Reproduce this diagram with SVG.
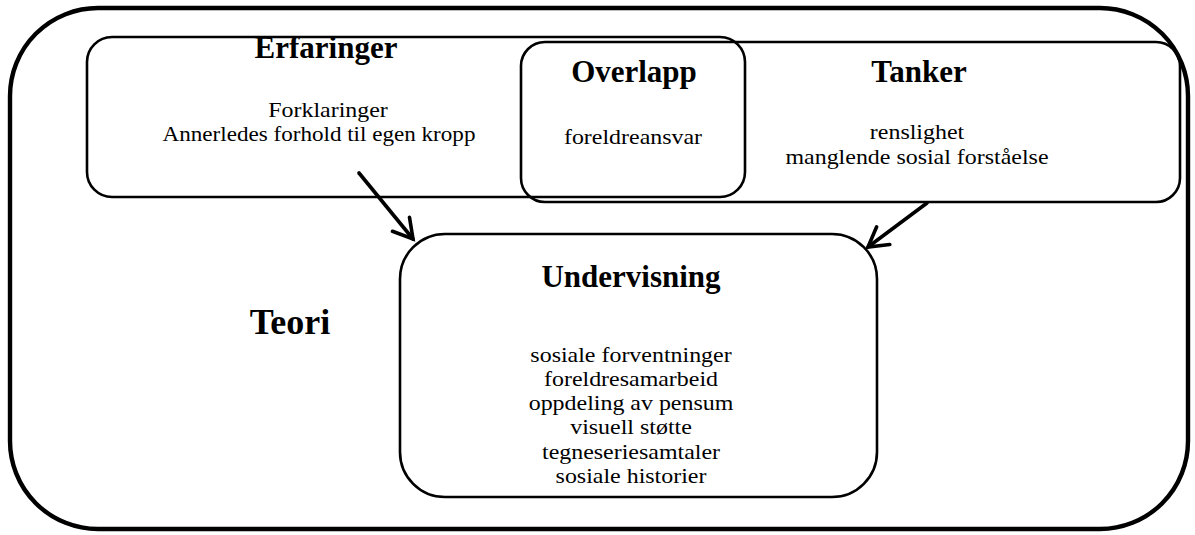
<svg xmlns="http://www.w3.org/2000/svg" width="1195" height="535" viewBox="0 0 1195 535">
<style>
  .box{fill:none;stroke:#000;stroke-width:2.6}
  .outer{fill:none;stroke:#000;stroke-width:4.4}
  .t{font-family:"Liberation Serif","Times New Roman",serif;font-weight:bold;font-size:31px;fill:#000;text-anchor:middle}
  .b{font-family:"Liberation Serif","Times New Roman",serif;font-size:21px;fill:#000;text-anchor:middle}
  .big{font-family:"Liberation Serif","Times New Roman",serif;font-weight:bold;font-size:36px;fill:#000;text-anchor:middle}
  .arr{stroke:#000;stroke-width:3.6;fill:none;stroke-linecap:round}
</style>
<defs>
  <marker id="ah" markerUnits="userSpaceOnUse" viewBox="-24 -14 28 28" refX="0" refY="0" markerWidth="28" markerHeight="28" orient="auto">
    <path d="M-19,-11 L0,0 L-19,11" fill="none" stroke="#000" stroke-width="3.6" stroke-linecap="round" stroke-linejoin="miter"/>
  </marker>
</defs>
<rect width="1195" height="535" fill="#fff"/>
<g id="teori">
  <path class="outer" d="M98,8 H1100 A88,88 0 0 1 1188,96 V441 A88,88 0 0 1 1100,529 H98 A88,88 0 0 1 10,441 V96 A88,88 0 0 1 98,8 Z"/>
  <text class="big" x="290" y="334">Teori</text>
</g>
<g id="erfaringer">
  <rect class="box" x="87" y="37" width="658" height="160" rx="25" ry="25"/>
  <text class="t" x="326" y="58">Erfaringer</text>
  <text class="b" transform="translate(328 0) scale(1.14 1)" x="0" y="117">Forklaringer</text>
  <text class="b" transform="translate(319 0) scale(1.1 1)" x="0" y="141">Annerledes forhold til egen kropp</text>
</g>
<g id="tanker">
  <rect class="box" x="521" y="42" width="659" height="160" rx="24" ry="24"/>
  <text class="t" x="919" y="82">Tanker</text>
  <text class="b" transform="translate(917 0) scale(1.14 1)" x="0" y="139">renslighet</text>
  <text class="b" transform="translate(917 0) scale(1.14 1)" x="0" y="164">manglende sosial forståelse</text>
</g>
<g id="overlapp">
  <text class="t" x="634" y="82">Overlapp</text>
  <text class="b" transform="translate(633 0) scale(1.14 1)" x="0" y="144">foreldreansvar</text>
</g>
<g id="undervisning">
  <rect class="box" x="400" y="234" width="477" height="263" rx="45" ry="45"/>
  <text class="t" x="631" y="287">Undervisning</text>
  <g transform="translate(631 0) scale(1.14 1)">
    <text class="b" x="0" y="362">sosiale forventninger</text>
    <text class="b" x="0" y="386">foreldresamarbeid</text>
    <text class="b" x="0" y="410">oppdeling av pensum</text>
    <text class="b" x="0" y="434">visuell støtte</text>
    <text class="b" x="0" y="459">tegneseriesamtaler</text>
    <text class="b" x="0" y="483">sosiale historier</text>
  </g>
</g>
<g id="connectors">
  <line class="arr" x1="359" y1="173" x2="413" y2="239" marker-end="url(#ah)"/>
  <line class="arr" x1="927" y1="203" x2="868" y2="247" marker-end="url(#ah)"/>
</g>
</svg>
